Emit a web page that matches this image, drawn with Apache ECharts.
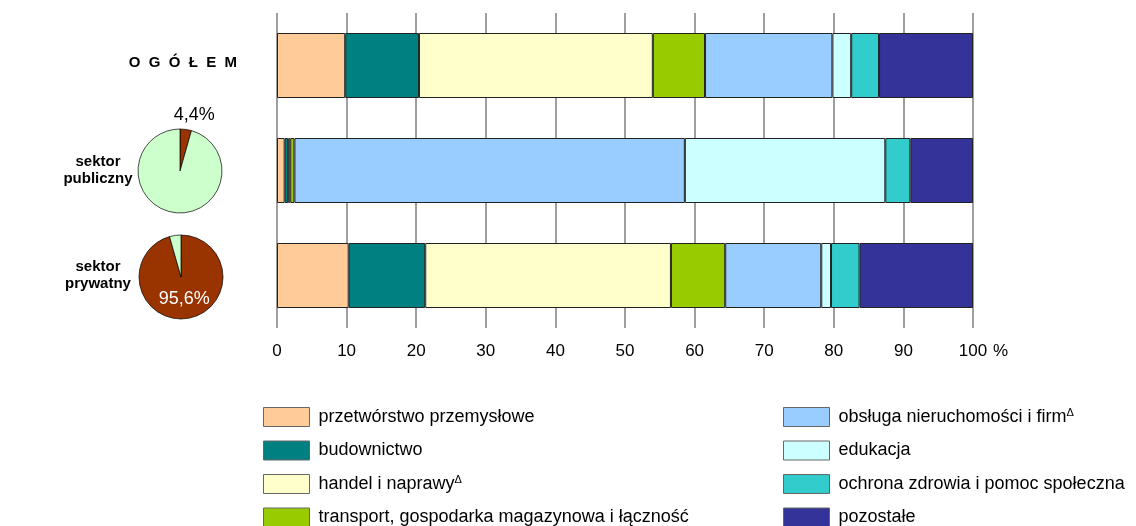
<!DOCTYPE html>
<html>
<head>
<meta charset="utf-8">
<script src="https://cdn.jsdelivr.net/npm/echarts@6/dist/echarts.min.js"></script>
<style>
  html, body { margin: 0; padding: 0; background: #fff; }
  #chart { width: 1136px; height: 526px; }
</style>
</head>
<body>
<div id="chart"></div>
<script>
// rows of the bar chart (top to bottom)
const rows = ['OGÓŁEM', 'sektor publiczny', 'sektor prywatny'];

// sections (stack order, left to right)
const sections = [
  'przetwórstwo przemysłowe',
  'budownictwo',
  'handel i naprawy',
  'transport, gospodarka magazynowa i łączność',
  'obsługa nieruchomości i firm',
  'edukacja',
  'ochrona zdrowia i pomoc społeczna',
  'pozostałe'
];
const footnoted = ['handel i naprawy', 'obsługa nieruchomości i firm'];
const colors = ['#FFCC99', '#008080', '#FFFFCC', '#99CC00', '#99CCFF', '#CCFFFF', '#33CCCC', '#333399'];

// shares in % per section: [ogółem, publiczny, prywatny]
const przetworstwo = [9.8, 1.1, 10.3];
const budownictwo  = [10.6, 0.5, 11.0];
const handel       = [33.6, 0.3, 35.3];
const transport    = [7.5, 0.6, 7.8];
const obsluga      = [18.3, 56.1, 13.8];
const edukacja     = [2.7, 28.8, 1.4];
const ochrona      = [4.0, 3.6, 4.1];
const pozostale    = [13.5, 9.0, 16.3];
const values = [przetworstwo, budownictwo, handel, transport, obsluga, edukacja, ochrona, pozostale];

// sector share of the total (pies)
const sectorShare = [4.4, 95.6];
const pieColors = ['#993300', '#CCFFCC'];

const xTicks = [0, 100, 10];

const fmt = v => String(v).replace('.', ',') + '%';

let myChart = echarts.init(document.getElementById('chart'));

let series = sections.map((name, i) => ({
  name: name,
  type: 'bar',
  stack: 'all',
  barWidth: 65,
  itemStyle: { color: colors[i], borderColor: '#222', borderWidth: 1 },
  data: values[i]
}));

// pie for public sector
series.push({
  type: 'pie',
  center: [180, 171],
  radius: 42,
  startAngle: 90,
  clockwise: true,
  avoidLabelOverlap: false,
  silent: true,
  itemStyle: { borderColor: '#000', borderWidth: 0.7 },
  labelLine: { show: false, length: 0, length2: 0 },
  labelLayout: { dx: -17, dy: -14 },
  data: [
    { name: 'publiczny', value: sectorShare[0], itemStyle: { color: pieColors[0] },
      label: { show: true, position: 'outside', formatter: p => fmt(p.value), color: '#000', fontSize: 18, fontFamily: 'Liberation Sans' } },
    { name: 'reszta_pub', value: 100 - sectorShare[0], itemStyle: { color: pieColors[1] }, label: { show: false } }
  ]
});

// pie for private sector
series.push({
  type: 'pie',
  center: [181, 277],
  radius: 42,
  startAngle: 90,
  clockwise: true,
  avoidLabelOverlap: false,
  silent: true,
  itemStyle: { borderColor: '#000', borderWidth: 0.7 },
  labelLine: { show: false },
  labelLayout: { dy: -2 },
  data: [
    { name: 'prywatny', value: sectorShare[1], itemStyle: { color: pieColors[0] },
      label: { show: true, position: 'inside', formatter: p => fmt(p.value), color: '#fff', fontSize: 18, fontFamily: 'Liberation Sans' } },
    { name: 'reszta_pryw', value: 100 - sectorShare[1], itemStyle: { color: pieColors[1] }, label: { show: false } }
  ]
});

const legendText = {
  fontSize: 18,
  fontFamily: 'Liberation Sans',
  color: '#000',
  padding: [0, 0, 0, 4],
  rich: {
    n: { fontSize: 18, fontFamily: 'Liberation Sans', color: '#000', lineHeight: 19 },
    sup: { fontSize: 11, fontFamily: 'Liberation Sans', color: '#000', verticalAlign: 'top', lineHeight: 12 }
  }
};
const legendFormatter = name => footnoted.includes(name) ? '{n|' + name + '}{sup|Δ}' : '{n|' + name + '}';

const legendBase = {
  orient: 'vertical',
  top: 407,
  padding: 0,
  height: 130,
  icon: 'rect',
  itemWidth: 46,
  itemHeight: 19,
  itemGap: 13.5,
  selectedMode: false,
  itemStyle: { borderColor: '#666', borderWidth: 1 },
  textStyle: legendText,
  formatter: legendFormatter
};

let option = {
  animation: false,
  textStyle: { fontFamily: 'Liberation Sans' },
  grid: { left: 277, right: 163, top: 13, height: 315, containLabel: false },
  legend: [
    Object.assign({ left: 263, data: sections.slice(0, 4) }, legendBase),
    Object.assign({ left: 783, data: sections.slice(4) }, legendBase)
  ],
  xAxis: {
    type: 'value',
    min: xTicks[0],
    max: xTicks[1],
    interval: xTicks[2],
    name: '%',
    nameLocation: 'end',
    nameGap: 14,
    nameTextStyle: { fontSize: 17, color: '#000', verticalAlign: 'top', padding: [15, 0, 0, 0] },
    axisLine: { show: false },
    axisTick: { show: false },
    axisLabel: { margin: 15, fontSize: 17, color: '#000' },
    splitLine: { show: true, lineStyle: { color: '#7f7f7f', width: 1.5 } }
  },
  yAxis: {
    type: 'category',
    inverse: true,
    data: rows,
    axisLine: { show: false },
    axisTick: { show: false },
    axisLabel: {
      margin: 40,
      align: 'right',
      formatter: v => {
        if (v === rows[0]) return '{t|' + v.split('').join('  ') + '}';
        return v.split(' ').map(w => '{s|' + w + '}').join('\n');
      },
      rich: {
        t: { fontSize: 15, fontWeight: 'bold', color: '#000', fontFamily: 'Liberation Sans', padding: [0, 0, 6, 0] },
        s: { fontSize: 15, fontWeight: 'bold', color: '#000', fontFamily: 'Liberation Sans', width: 74, align: 'center', lineHeight: 17, padding: [0, 102, 0, 0] }
      }
    }
  },
  series: series
};

myChart.setOption(option);
</script>
</body>
</html>
